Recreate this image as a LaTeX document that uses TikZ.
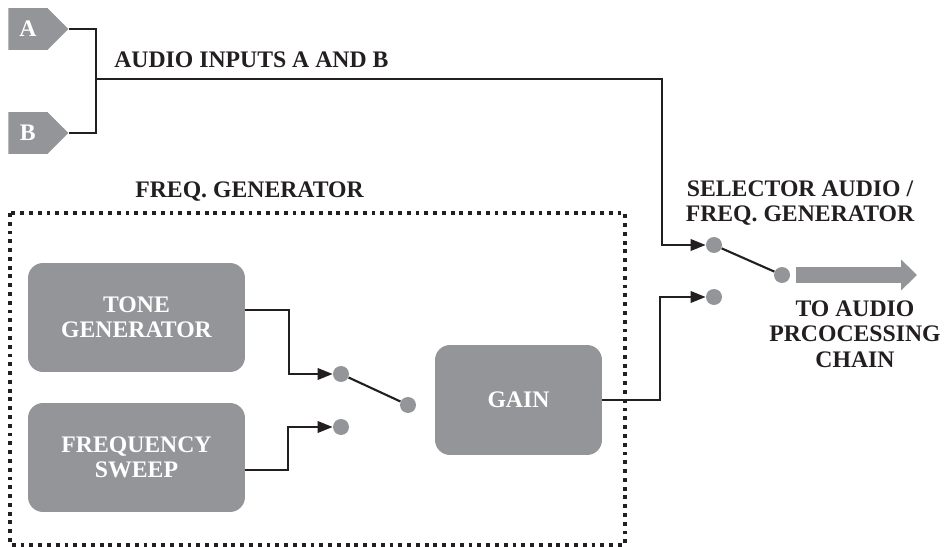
\documentclass[tikz,border=0pt]{standalone}
\usepackage{fontspec}
\setmainfont{Liberation Serif}
\usetikzlibrary{arrows.meta,shapes.symbols}
\definecolor{boxgrey}{RGB}{147,149,152}
\definecolor{ink}{RGB}{35,31,32}
\tikzset{
  lbl/.style={font=\fontsize{13.5}{14.5}\selectfont\bfseries, text=ink, inner sep=0pt},
  block/.style={lbl, fill=boxgrey, text=white, rounded corners=0.3cm, align=center},
  tag/.style={lbl, shape=signal, signal to=east, fill=boxgrey, text=white, minimum width=1.2cm, minimum height=0.84cm},
  dot/.style={circle, fill=boxgrey, inner sep=0pt, minimum size=0.32cm},
  wire/.style={ink, line width=1.2pt},
  feed/.style={wire, -{Triangle[length=8.5pt,width=6.5pt]}},
}
\begin{document}
\begin{tikzpicture}[x=0.02cm,y=-0.02cm]
\useasboundingbox (0,0) rectangle (944,547);
% audio inputs
\node[tag,anchor=west] (ina) at (8,29) {A};
\node[tag,anchor=west] (inb) at (8,133) {B};
\coordinate (bus) at (96,79);
\draw[wire] (ina.east) -| (bus) |- (inb.east);
\node[lbl,anchor=base west] (audiolbl) at (114,68) {AUDIO INPUTS A AND B};

% generator
\draw[ink,line width=2.2pt,dash pattern=on 2.2pt off 2.8pt] (10,213) rectangle (625,545);
\node[lbl,anchor=base west] (genlbl) at (135,198) {FREQ. GENERATOR};
\node[block,minimum width=4.34cm,minimum height=2.18cm] (tone) at (136.5,317.5) {TONE\\GENERATOR};
\node[block,minimum width=4.34cm,minimum height=2.18cm] (sweep) at (136.5,457.5) {FREQUENCY\\SWEEP};
\node[block,minimum width=3.34cm,minimum height=2.2cm] (gain) at (518.5,400) {GAIN};
\node[dot] (t1) at (341,374) {};
\node[dot] (t2) at (341,427) {};
\node[dot] (tc) at (408,405) {};
\draw[feed] ([yshift=4.5pt]tone.east) -- ++(44,0) |- (t1);
\draw[feed] ([yshift=-7pt]sweep.east) -- ++(43,0) |- (t2);
\draw[wire] (t1) -- (tc);

% selector
\node[dot] (s1) at (714,245) {};
\node[dot] (s2) at (714,297) {};
\node[dot] (sc) at (782,275) {};
\draw[feed] (bus) -- ++(566,0) |- (s1);
\draw[feed] (gain.east) -- ++(58,0) |- (s2);
\draw[wire] (s1) -- (sc);
\coordinate (out) at (917,275);
\draw[boxgrey,line width=9pt,shorten <=3pt,-{Triangle[length=9pt,width=17pt]}] (sc) -- (out);
\node[lbl,align=center] (sellbl) at (800,203) {SELECTOR AUDIO /\\FREQ. GENERATOR};
\node[lbl,align=center] (outlbl) at (855,334) {TO AUDIO\\PRCOCESSING\\CHAIN};
\end{tikzpicture}
\end{document}
